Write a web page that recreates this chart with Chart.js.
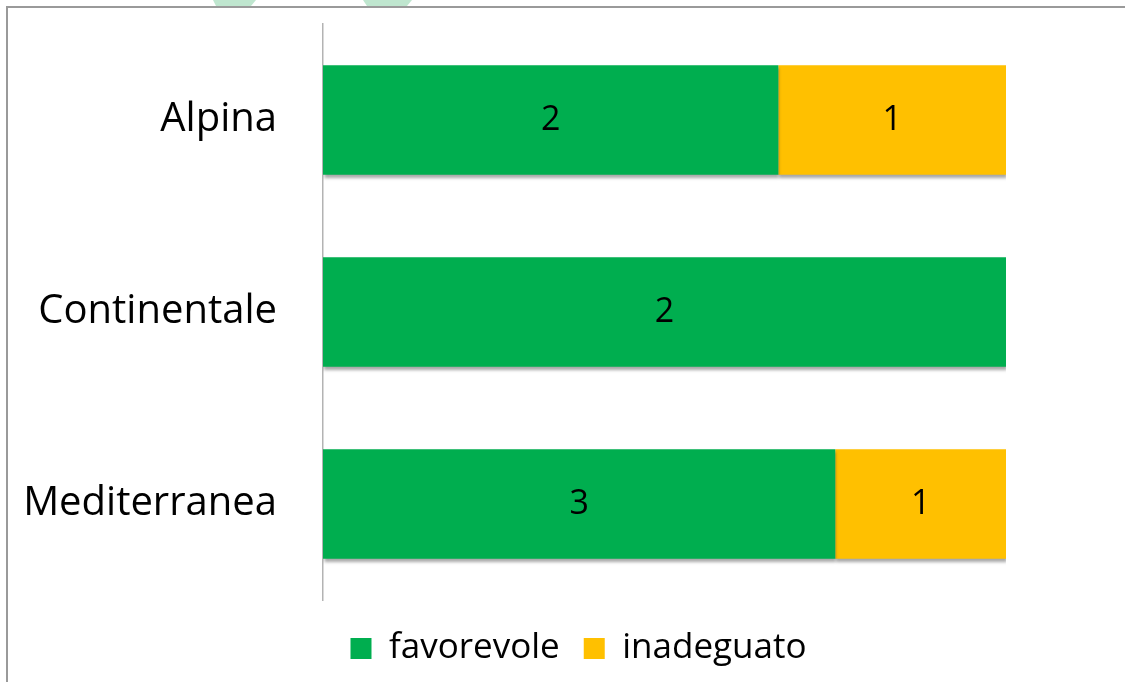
<!DOCTYPE html>
<html><head><meta charset="utf-8">
<script src="https://cdn.jsdelivr.net/npm/chart.js@4/dist/chart.umd.min.js"></script>
<style>html,body{margin:0;padding:0;background:#fff;overflow:hidden}#wrap{width:1125px;height:682px;position:relative}</style>
</head><body><div id="wrap"><canvas id="c"></canvas></div>
<script>
const categories = ['Alpina', 'Continentale', 'Mediterranea'];
const seriesNames = ['favorevole', 'inadeguato'];
const favorevole = [2, 2, 3];
const inadeguato = [1, 0, 1];
const seriesColors = ['#00AE4F', '#FFC000'];

const totals = categories.map((_, i) => favorevole[i] + inadeguato[i]);
const pct = arr => arr.map((v, i) => v / totals[i] * 100);
const counts = [favorevole, inadeguato];

const FONT = "'Open Sans', 'DejaVu Sans', sans-serif";

const framePlugin = {
  id: 'frame',
  afterLayout(chart) {
    const lg = chart.legend;
    if (lg) {
      lg.left += 151;
      lg.top += 7;
      lg.bottom += 7;
    }
  },
  beforeDraw(chart) {
    const ctx = chart.ctx;
    ctx.save();
    ctx.fillStyle = '#fff';
    ctx.fillRect(0, 0, chart.width, chart.height);
    ctx.fillStyle = '#bfe6cf';
    ctx.beginPath();
    ctx.moveTo(213, 0); ctx.lineTo(256, 0); ctx.lineTo(251, 6); ctx.lineTo(216, 6); ctx.closePath(); ctx.fill();
    ctx.beginPath();
    ctx.moveTo(363, 0); ctx.lineTo(412, 0); ctx.lineTo(407, 6); ctx.lineTo(367, 6); ctx.closePath(); ctx.fill();
    ctx.strokeStyle = '#9a9a9a';
    ctx.lineWidth = 2;
    ctx.beginPath();
    ctx.moveTo(7, chart.height); ctx.lineTo(7, 7); ctx.lineTo(chart.width, 7);
    ctx.stroke();
    ctx.restore();
  }
};

const shadowPlugin = {
  id: 'barShadow',
  beforeDatasetsDraw(chart) {
    const ctx = chart.ctx;
    ctx.save();
    ctx.shadowColor = 'rgba(0,0,0,0.35)';
    ctx.shadowOffsetX = 1;
    ctx.shadowOffsetY = 3;
    ctx.shadowBlur = 3;
  },
  afterDatasetsDraw(chart) {
    chart.ctx.restore();
  }
};

const labelPlugin = {
  id: 'segLabels',
  afterDraw(chart) {
    const ctx = chart.ctx;
    ctx.save();
    ctx.font = '34px ' + FONT;
    ctx.fillStyle = '#000';
    ctx.textAlign = 'center';
    ctx.textBaseline = 'middle';
    chart.data.datasets.forEach((ds, di) => {
      const meta = chart.getDatasetMeta(di);
      meta.data.forEach((el, i) => {
        const v = counts[di][i];
        if (!v) return;
        ctx.fillText(String(v), (el.x + el.base) / 2, el.y);
      });
    });
    ctx.restore();
  }
};

new Chart(document.getElementById('c'), {
  type: 'bar',
  data: {
    labels: categories,
    datasets: [
      { label: seriesNames[0], data: pct(favorevole), backgroundColor: seriesColors[0], borderWidth: 0 },
      { label: seriesNames[1], data: pct(inadeguato), backgroundColor: seriesColors[1], borderWidth: 0 }
    ]
  },
  options: {
    indexAxis: 'y',
    responsive: true,
    maintainAspectRatio: false,
    animation: false,
    datasets: { bar: { barPercentage: 0.57, categoryPercentage: 1 } },
    layout: { padding: { top: 24, right: 119, bottom: 13, left: 0 } },
    scales: {
      x: { stacked: true, min: 0, max: 100, display: false },
      y: {
        stacked: true,
        grid: { display: false, drawTicks: false },
        border: { display: true, color: '#b3b3b3', width: 1.5 },
        ticks: { color: '#000', font: { family: FONT, size: 40 }, padding: 46 },
        afterFit(scale) {
          scale.width = 323;
          scale.paddingTop = 0;
          scale.paddingBottom = 0;
        }
      }
    },
    plugins: {
      legend: {
        position: 'bottom',
        labels: {
          color: '#000',
          font: { family: FONT, size: 35 },
          boxWidth: 21,
          boxHeight: 21,
          padding: 24
        }
      },
      tooltip: { enabled: false }
    }
  },
  plugins: [framePlugin, shadowPlugin, labelPlugin]
});
</script>
</body></html>
